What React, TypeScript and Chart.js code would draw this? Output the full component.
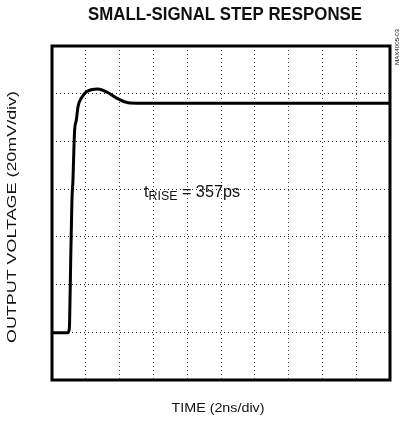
import React, { useEffect, useRef } from "react";
import { Chart, registerables } from "chart.js";

Chart.register(...registerables);

// ---- data (time and voltage in grid divisions) ----
const TIME_DIV = [0, 0.46, 0.5, 0.52, 0.55, 0.59, 0.62, 0.65, 0.67, 0.72, 0.77, 0.87, 1.02, 1.36, 1.66, 1.96, 2.25, 2.6, 10];
const VOLT_DIV = [0.99, 0.99, 1.03, 1.19, 2.38, 3.77, 4.19, 4.89, 5.24, 5.45, 5.73, 5.91, 6.04, 6.1, 6.02, 5.89, 5.81, 5.8, 5.8];
const X_DIVS = 10;
const Y_DIVS = 7;

const TITLE = "SMALL-SIGNAL STEP RESPONSE";
const X_LABEL = "TIME (2ns/div)";
const Y_LABEL = "OUTPUT VOLTAGE (20mV/div)";
const ANNOT_MAIN = "t";
const ANNOT_SUB = "RISE";
const ANNOT_REST = " = 357ps";
const FIG_CODE = "MAX4005-03";

const FONT = "'Liberation Sans', Arial, sans-serif";

function drawScaled(
  ctx: CanvasRenderingContext2D,
  text: string,
  x: number,
  y: number,
  font: string,
  targetWidth: number,
  rotation = 0
) {
  ctx.save();
  ctx.font = font;
  const w = ctx.measureText(text).width;
  const s = targetWidth / w;
  ctx.translate(x, y);
  ctx.rotate(rotation);
  ctx.scale(s, 1);
  ctx.textAlign = "center";
  ctx.textBaseline = "middle";
  ctx.fillStyle = "#111";
  ctx.fillText(text, 0, 0);
  ctx.restore();
}

const textPlugin = {
  id: "textPlugin",
  afterDraw(chart: any) {
    const ctx: CanvasRenderingContext2D = chart.ctx;
    const a = chart.chartArea;
    // frame
    ctx.save();
    ctx.strokeStyle = "#000";
    ctx.lineWidth = 3;
    ctx.strokeRect(a.left, a.top, a.right - a.left, a.bottom - a.top);
    ctx.restore();

    const cx = (a.left + a.right) / 2;
    drawScaled(ctx, TITLE, 225, 15, `bold 19px ${FONT}`, 274);
    drawScaled(ctx, X_LABEL, cx - 3, 408, `13px ${FONT}`, 93);
    drawScaled(ctx, Y_LABEL, 12, 217, `13px ${FONT}`, 252, -Math.PI / 2);
    drawScaled(ctx, FIG_CODE, 397, 47, `6px ${FONT}`, 36, -Math.PI / 2);

    // annotation t_RISE = 357ps
    ctx.save();
    ctx.fillStyle = "#111";
    ctx.textBaseline = "alphabetic";
    ctx.textAlign = "left";
    const bigFont = `17px ${FONT}`;
    const subFont = `13px ${FONT}`;
    ctx.font = bigFont;
    const w1 = ctx.measureText(ANNOT_MAIN).width;
    const w3 = ctx.measureText(ANNOT_REST).width;
    ctx.font = subFont;
    const w2 = ctx.measureText(ANNOT_SUB).width;
    const sx = 96 / (w1 + w2 + w3);
    ctx.translate(144, 197);
    ctx.scale(sx, 1);
    ctx.font = bigFont;
    ctx.fillText(ANNOT_MAIN, 0, 0);
    ctx.font = subFont;
    ctx.fillText(ANNOT_SUB, w1, 3);
    ctx.font = bigFont;
    ctx.fillText(ANNOT_REST, w1 + w2, 0);
    ctx.restore();
  },
};

export default function App() {
  const ref = useRef<HTMLCanvasElement | null>(null);
  useEffect(() => {
    document.body.style.margin = "0";
    const canvas = ref.current!;
    const points = TIME_DIV.map((t, i) => ({ x: t, y: VOLT_DIV[i] }));
    const chart = new Chart(canvas, {
      type: "scatter",
      data: {
        datasets: [
          {
            data: points,
            showLine: true,
            borderColor: "#000",
            borderWidth: 3,
            pointRadius: 0,
            cubicInterpolationMode: "monotone",
            fill: false,
          } as any,
        ],
      },
      options: {
        responsive: false,
        animation: false,
        events: [],
        layout: { padding: { left: 52, top: 46, right: 11, bottom: 42 } },
        plugins: { legend: { display: false }, tooltip: { enabled: false }, title: { display: false } },
        scales: {
          x: {
            type: "linear",
            min: 0,
            max: X_DIVS,
            ticks: { display: false, stepSize: 1 },
            grid: { color: "#444", lineWidth: 1, drawTicks: false },
            border: { display: false, dash: [1, 3] },
          },
          y: {
            type: "linear",
            min: 0,
            max: Y_DIVS,
            ticks: { display: false, stepSize: 1 },
            grid: { color: "#222", lineWidth: 1, drawTicks: false },
            border: { display: false, dash: [1, 3] },
          },
        },
      },
      plugins: [textPlugin],
    });
    return () => chart.destroy();
  }, []);
  return <canvas ref={ref} width={401} height={422} style={{ display: "block" }} />;
}
